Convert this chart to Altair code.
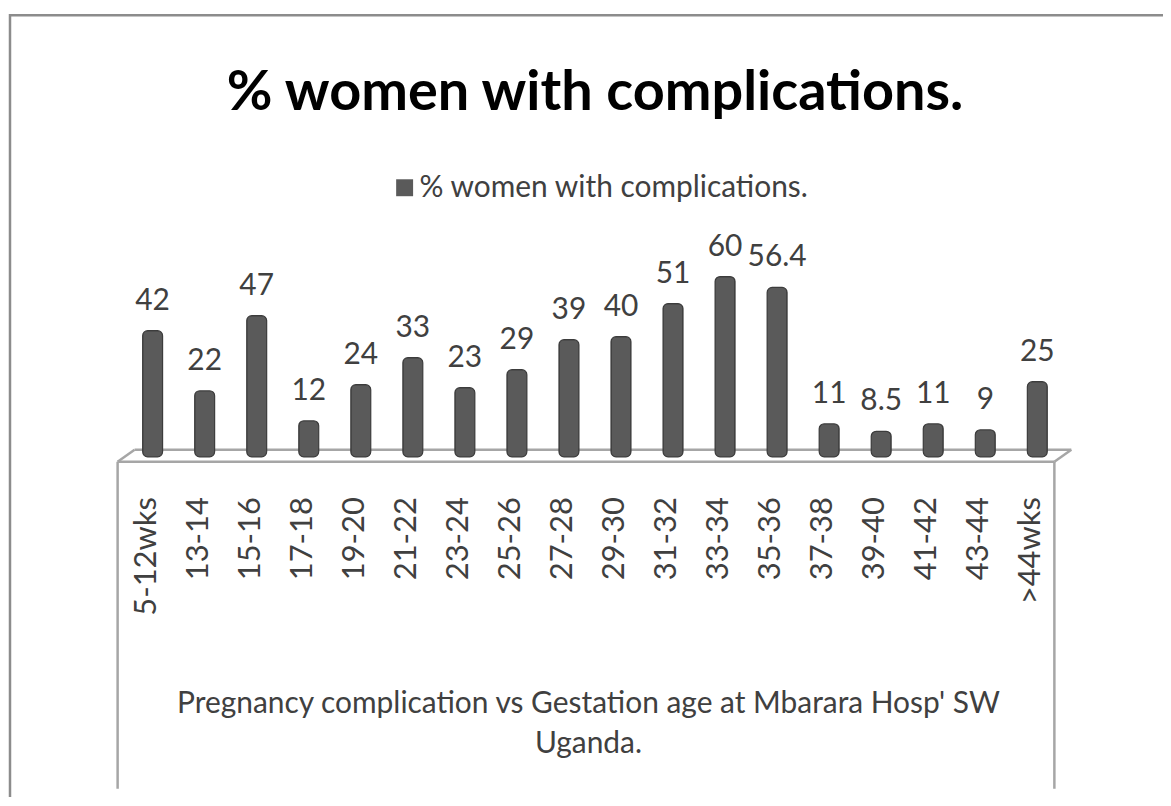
import altair as alt
import pandas as pd

categories = ["5-12wks", "13-14", "15-16", "17-18", "19-20", "21-22", "23-24", "25-26",
              "27-28", "29-30", "31-32", "33-34", "35-36", "37-38", "39-40", "41-42",
              "43-44", ">44wks"]
values = [42, 22, 47, 12, 24, 33, 23, 29, 39, 40, 51, 60, 56.4, 11, 8.5, 11, 9, 25]
labels = ["42", "22", "47", "12", "24", "33", "23", "29", "39", "40", "51", "60", "56.4",
          "11", "8.5", "11", "9", "25"]
series_name = "% women with complications."
title_text = "% women with complications."
axis_title = ["Pregnancy complication vs Gestation age at Mbarara Hosp' SW", "Uganda."]

df = pd.DataFrame({"cat": categories, "val": values, "lab": labels, "series": series_name})
one = pd.DataFrame({"a": [0]})

FONT = "Lato"
TXT = "#404040"
W, H = 940, 211

x_enc = alt.X("cat:N", sort=categories,
              scale=alt.Scale(paddingInner=0, paddingOuter=0),
              axis=alt.Axis(title=axis_title, labelAngle=-90, labelFont=FONT, labelFontSize=31,
                            labelColor=TXT, labelPadding=40, labelOffset=-6, tickSize=0,
                            domain=False, titleFont=FONT, titleFontSize=30,
                            titleFontWeight="normal", titleColor=TXT, titleLineHeight=40,
                            titleX=463, titleY=257, titleAlign="center",
                            titleBaseline="alphabetic"))
y_enc = alt.Y("val:Q", scale=alt.Scale(domain=[0, 70]), axis=None)

bars = alt.Chart(df).mark_bar(size=20, cornerRadius=5, stroke="#3c3c3c", strokeWidth=1.2).encode(
    x=x_enc, y=y_enc,
    color=alt.Color("series:N", scale=alt.Scale(range=["#5a5a5a"]),
                    legend=alt.Legend(title=None, orient="none", legendX=264, legendY=-74,
                                      symbolType="square", symbolSize=289, symbolStrokeWidth=0,
                                      labelFont=FONT, labelFontSize=30, labelColor=TXT,
                                      labelOffset=0, labelLimit=0, padding=0)),
)

text = alt.Chart(df).mark_text(font=FONT, fontSize=30, color=TXT, baseline="alphabetic",
                               dy=-21).encode(
    x=alt.X("cat:N", sort=categories), y="val:Q", text="lab:N")

floor_style = dict(color="#a6a6a6", strokeWidth=2.5)
def seg(x1, y1, x2, y2):
    return alt.Chart(one).mark_rule(**floor_style).encode(
        x=alt.value(x1), y=alt.value(y1), x2=alt.value(x2), y2=alt.value(y2))

floor = [
    seg(8, 204, 948, 204),
    seg(-9, 216, 931, 216),
    seg(-9, 216, 8, 204),
    seg(931, 216, 948, 204),
    seg(-9, 216, -9, 544),
    seg(931, 216, 931, 544),
]

frame = alt.Chart(one).mark_rect(fill="transparent", stroke="#8c8c8c", strokeWidth=2.5).encode(
    x=alt.value(-117), y=alt.value(-232), x2=alt.value(1100), y2=alt.value(700))

chart = alt.layer(frame, *floor, bars, text).properties(
    width=W, height=H,
    autosize=alt.AutoSizeParams(type="none"),
    padding={"left": 119, "top": 238, "right": 100, "bottom": 340},
    title=alt.TitleParams(title_text, font=FONT, fontSize=56, fontWeight="bold", color="#000000",
                          anchor="middle", baseline="alphabetic", offset=-152),
).configure_view(stroke=None)

chart.save("out.html", embed_options={"renderer": "svg", "actions": False})
